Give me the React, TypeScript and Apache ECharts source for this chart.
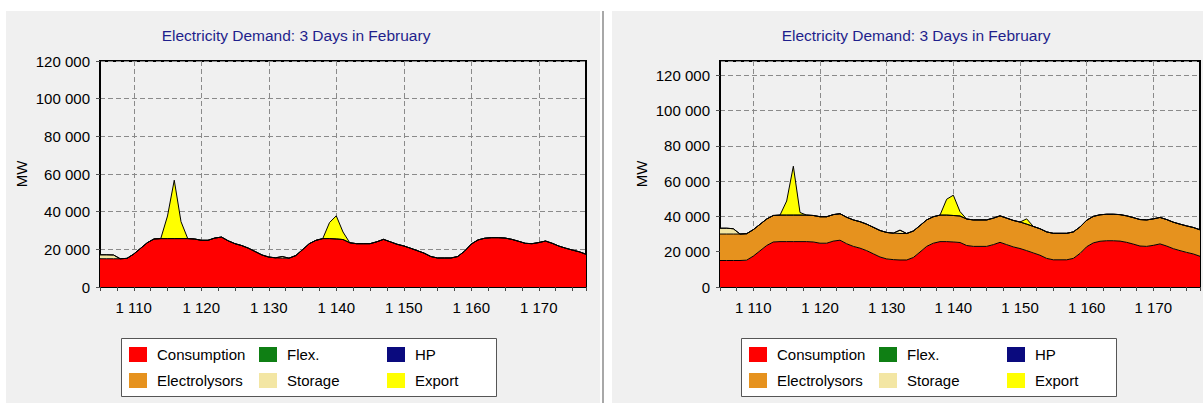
import React, { useEffect, useRef } from "react";
import * as echarts from "echarts";

// Hours shown on the x axis (3 days of February)
const hourStart = 1105;
const hourEnd = 1177;
const hours = Array.from({ length: hourEnd - hourStart + 1 }, (_, i) => String(hourStart + i));

// Electricity consumption, MW (same in both scenarios)
const consumption = [
  15000, 15000, 15000, 15000, 15200, 17500, 20500, 23500, 25500, 25700,
  25700, 25700, 25700, 25700, 25500, 24800, 24800, 26000, 26500, 24500,
  23000, 22000, 20600, 18800, 17000, 15900, 15500, 15300, 15300, 16700,
  19800, 23000, 24800, 25700, 25700, 25500, 25200, 23500, 23000, 23000,
  23000, 24000, 25300, 24000, 22700, 21800, 20600, 19300, 18000, 16200,
  15400, 15400, 15400, 16200, 19000, 22800, 25000, 25900, 26200, 26200,
  26000, 25300, 24300, 23200, 23000, 23600, 24400, 23200, 21700, 20600,
  19600, 18700, 17400,
];

// Electrolysors, MW (right scenario only)
const electrolysorsRight = [
  15000, 15000, 15000, 15000, 15000, 15000, 15000, 15000, 15000, 15000,
  15000, 15000, 15000, 15000, 15000, 15000, 15000, 15000, 15000, 15000,
  15000, 15000, 15000, 15000, 15000, 15000, 15000, 15000, 15000, 15000,
  15000, 15000, 15000, 15000, 15000, 15000, 15000, 15000, 15000, 15000,
  15000, 15000, 15000, 15000, 15000, 15000, 15000, 15000, 15000, 15000,
  15000, 15000, 15000, 15000, 15000, 15000, 15000, 15000, 15000, 15000,
  15000, 15000, 15000, 15000, 15000, 15000, 15000, 15000, 15000, 15000,
  15000, 15000, 15000,
];

// Storage, MW
const storageLeft = [
  2100, 2100, 2000, 0, 0, 0, 0, 0, 0, 0,
  0, 0, 0, 0, 0, 0, 0, 0, 0, 0,
  0, 0, 0, 0, 0, 0, 0, 900, 0, 0,
  0, 0, 0, 0, 0, 0, 0, 0, 0, 0,
  0, 0, 0, 0, 0, 0, 0, 0, 0, 0,
  0, 0, 0, 0, 0, 0, 0, 0, 0, 0,
  0, 0, 0, 0, 0, 0, 0, 0, 0, 0,
  0, 0, 0,
];
const storageRight = [
  3300, 3300, 3000, 0, 0, 0, 0, 0, 0, 0,
  0, 0, 0, 0, 0, 0, 0, 0, 0, 0,
  0, 0, 0, 0, 0, 0, 0, 1900, 0, 0,
  0, 0, 0, 0, 0, 0, 0, 0, 0, 0,
  0, 0, 0, 0, 0, 0, 0, 0, 0, 0,
  0, 0, 0, 0, 0, 0, 0, 0, 0, 0,
  0, 0, 0, 0, 0, 0, 0, 0, 0, 0,
  0, 0, 0,
];

// Export, MW
const exportLeft = [
  0, 0, 0, 0, 0, 0, 0, 0, 0, 0,
  12000, 31000, 9000, 0, 0, 0, 0, 0, 0, 0,
  0, 0, 0, 0, 0, 0, 0, 0, 0, 0,
  0, 0, 0, 0, 8500, 12300, 4000, 0, 0, 0,
  0, 0, 0, 0, 0, 0, 0, 0, 0, 0,
  0, 0, 0, 0, 0, 0, 0, 0, 0, 0,
  0, 0, 0, 0, 0, 0, 0, 0, 0, 0,
  0, 0, 0,
];
const exportRight = [
  0, 0, 0, 0, 0, 0, 0, 0, 0, 0,
  8000, 27700, 1500, 0, 0, 0, 0, 0, 0, 0,
  0, 0, 0, 0, 0, 0, 0, 0, 0, 0,
  0, 0, 0, 0, 9000, 11500, 2500, 0, 0, 0,
  0, 0, 0, 0, 0, 0, 3000, 0, 0, 0,
  0, 0, 0, 0, 0, 0, 0, 0, 0, 0,
  0, 0, 0, 0, 0, 0, 0, 0, 0, 0,
  0, 0, 0,
];

const yTickValues = [0, 20000, 40000, 60000, 80000, 100000, 120000];
const legendColumns = [
  ["Consumption", "Electrolysors"],
  ["Flex.", "Storage"],
  ["HP", "Export"],
];
const titleText = "Electricity Demand: 3 Days in February";

const COLORS: Record<string, string> = {
  Consumption: "#FF0000",
  Electrolysors: "#E6921E",
  "Flex.": "#0F7F14",
  Storage: "#F3E6A4",
  HP: "#0A0A7E",
  Export: "#FFFF00",
};

const FONT = "'Liberation Sans', Arial, Helvetica, sans-serif";

const fmtThousands = (v: number) =>
  String(Math.round(v)).replace(/\B(?=(\d{3})+(?!\d))/g, " ");

function buildPanel(idx: number, dx: number, yMax: number) {
  const gridLeft = 100 + dx;
  const grid = {
    left: gridLeft,
    top: 61,
    width: 486,
    height: 226,
    show: true,
    backgroundColor: "#F0F0F0",
    borderColor: "#000",
    borderWidth: 2,
    z: 0,
  };
  // visible value axis: ticks, labels and grid lines
  const xAxisValue = {
    type: "value",
    gridIndex: idx,
    position: "bottom",
    min: hourStart,
    max: hourEnd,
    interval: 2.5,
    axisLine: { show: true, onZero: false, lineStyle: { color: "#000", width: 2 } },
    axisTick: { show: true, length: 4, lineStyle: { color: "#444" } },
    axisLabel: {
      color: "#000",
      fontSize: 15,
      fontFamily: FONT,
      margin: 13,
      formatter: (v: number) => {
        const r = Math.round(v);
        return Math.abs(v - r) < 1e-6 && r % 10 === 0 ? fmtThousands(r) : "";
      },
    },
    splitLine: {
      show: true,
      lineStyle: {
        color: ["rgba(0,0,0,0)", "rgba(0,0,0,0)", "#8a8a8a", "rgba(0,0,0,0)"],
        type: [5, 3],
        width: 1,
      },
    },
  };
  // hidden category axis carrying the hourly data (for stacking)
  const xAxisData = {
    type: "category",
    gridIndex: idx,
    position: "bottom",
    data: hours,
    boundaryGap: false,
    show: false,
  };
  const yAxis = {
    type: "value",
    gridIndex: idx,
    min: yTickValues[0],
    max: yMax,
    interval: yTickValues[1] - yTickValues[0],
    name: "MW",
    nameLocation: "middle",
    nameRotate: 90,
    nameGap: 71,
    nameTextStyle: { color: "#000", fontSize: 15, fontFamily: FONT },
    axisLine: { show: true, lineStyle: { color: "#000", width: 2 } },
    axisTick: { show: true, length: 4, lineStyle: { color: "#555" } },
    axisLabel: {
      color: "#000",
      fontSize: 15,
      fontFamily: FONT,
      margin: 10,
      showMaxLabel: yTickValues.includes(yMax),
      formatter: (v: number) => (yTickValues.includes(v) ? fmtThousands(v) : ""),
    },
    splitLine: { show: true, lineStyle: { color: "#8a8a8a", type: [5, 3], width: 1 } },
  };
  const title = {
    text: titleText,
    left: 296 + dx,
    top: 27,
    textAlign: "center",
    padding: 0,
    textStyle: { color: "#1F1F8C", fontSize: 15.5, fontWeight: "normal", fontFamily: FONT },
  };
  const legendXs = [129, 259, 387];
  const legends = legendColumns.map((col, c) => ({
    orient: "vertical",
    left: legendXs[c] + dx,
    top: 347,
    padding: 0,
    itemGap: 11,
    itemWidth: 18,
    itemHeight: 15,
    icon: "rect",
    selectedMode: false,
    data: col,
    itemStyle: { borderWidth: 0 },
    textStyle: { color: "#000", fontSize: 15, fontFamily: FONT, padding: [0, 0, 0, 5], lineHeight: 15 },
  }));
  return { grid, xAxisValue, xAxisData, yAxis, title, legends };
}

// x axis indices: panel k -> value axis 2k, data axis 2k+1
function areaSeries(name: string, values: number[], idx: number, stack: string) {
  return {
    name,
    type: "line",
    xAxisIndex: idx * 2 + 1,
    yAxisIndex: idx,
    stack,
    data: values,
    symbol: "none",
    smooth: false,
    itemStyle: { color: COLORS[name] },
    lineStyle: { color: "#000", width: 1 },
    areaStyle: { color: COLORS[name], opacity: 1 },
    z: 2,
  };
}

function emptySeries(name: string, idx: number) {
  return {
    name,
    type: "line",
    xAxisIndex: idx * 2 + 1,
    yAxisIndex: idx,
    data: [],
    symbol: "none",
    itemStyle: { color: COLORS[name] },
    lineStyle: { width: 0 },
  };
}

export default function App() {
  const ref = useRef<HTMLDivElement>(null);
  useEffect(() => {
    if (!ref.current) return;
    const chart = echarts.init(ref.current, null, { renderer: "svg", width: 1203, height: 403 });
    const L = buildPanel(0, 0, 120000);
    const R = buildPanel(1, 620, 128000);
    const option = {
      animation: false,
      backgroundColor: "#F0F0F0",
      textStyle: { fontFamily: FONT },
      title: [L.title, R.title],
      grid: [L.grid, R.grid],
      xAxis: [L.xAxisValue, L.xAxisData, R.xAxisValue, R.xAxisData],
      yAxis: [L.yAxis, R.yAxis],
      legend: [...L.legends, ...R.legends],
      graphic: [
        { type: "rect", shape: { x: 0, y: 0, width: 1203, height: 11 }, style: { fill: "#FFFFFF" }, z: -1, silent: true },
        { type: "rect", shape: { x: 0, y: 0, width: 6, height: 403 }, style: { fill: "#FFFFFF" }, z: -1, silent: true },
        { type: "rect", shape: { x: 600, y: 0, width: 12, height: 403 }, style: { fill: "#FFFFFF" }, z: -1, silent: true },
        { type: "line", shape: { x1: 603, y1: 11, x2: 603, y2: 403 }, style: { stroke: "#A8A8A8", lineWidth: 2 }, z: -1, silent: true },
        { type: "rect", shape: { x: 121.5, y: 338.5, width: 375, height: 58 }, style: { fill: "#FFFFFF", stroke: "#555", lineWidth: 1 }, z: -1, silent: true },
        { type: "rect", shape: { x: 741.5, y: 338.5, width: 375, height: 58 }, style: { fill: "#FFFFFF", stroke: "#555", lineWidth: 1 }, z: -1, silent: true },
      ],
      series: [
        areaSeries("Consumption", consumption, 0, "L"),
        areaSeries("Storage", storageLeft, 0, "L"),
        areaSeries("Export", exportLeft, 0, "L"),
        emptySeries("Flex.", 0),
        emptySeries("HP", 0),
        areaSeries("Consumption", consumption, 1, "R"),
        areaSeries("Electrolysors", electrolysorsRight, 1, "R"),
        areaSeries("Storage", storageRight, 1, "R"),
        areaSeries("Export", exportRight, 1, "R"),
      ],
    };
    chart.setOption(option as any);
    return () => chart.dispose();
  }, []);
  return (
    <div
      ref={ref}
      style={{ position: "fixed", left: 0, top: 0, width: 1203, height: 403 }}
    />
  );
}
